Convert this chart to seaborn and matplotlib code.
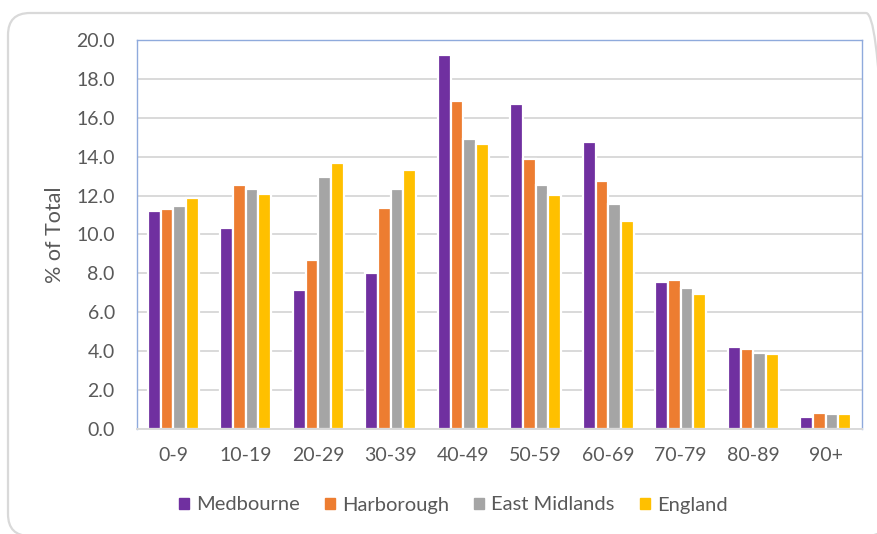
import seaborn as sns
import matplotlib.pyplot as plt
import pandas as pd
from matplotlib.patches import FancyBboxPatch

age_bands = ['0-9', '10-19', '20-29', '30-39', '40-49', '50-59', '60-69', '70-79', '80-89', '90+']
medbourne = [11.2, 10.35, 7.15, 8.0, 19.23, 16.7, 14.77, 7.57, 4.2, 0.63]
harborough = [11.3, 12.53, 8.67, 11.38, 16.88, 13.86, 12.77, 7.64, 4.13, 0.82]
east_midlands = [11.45, 12.34, 12.97, 12.34, 14.89, 12.53, 11.57, 7.27, 3.89, 0.75]
england = [11.88, 12.1, 13.68, 13.32, 14.65, 12.05, 10.71, 6.96, 3.84, 0.75]
series = ['Medbourne', 'Harborough', 'East Midlands', 'England']
colors = ['#7030A0', '#ED7D31', '#A5A5A5', '#FFC000']

df = pd.DataFrame({'Medbourne': medbourne, 'Harborough': harborough,
                   'East Midlands': east_midlands, 'England': england}, index=age_bands)
df = df.reset_index().melt(id_vars='index', var_name='Area', value_name='Pct')
df.columns = ['Age', 'Area', 'Pct']

sns.set_style('white')
plt.rcParams['font.family'] = ['Lato', 'DejaVu Sans']
text_col = '#595959'

fig = plt.figure(figsize=(8.78, 5.34), dpi=100)
ax = fig.add_axes([137 / 878, 1 - 429 / 534, 725 / 878, 389 / 534])

sns.barplot(data=df, x='Age', y='Pct', hue='Area', hue_order=series, palette=colors,
            width=0.7, edgecolor='white', linewidth=1.6, saturation=1, ax=ax, legend=False)

ax.set_ylim(0, 20)
ax.set_xlim(-0.5, 9.5)
ax.set_yticks([i * 2 for i in range(11)])
ax.set_yticklabels([f'{i * 2:.1f}' for i in range(11)])
ax.yaxis.grid(True, color='#D9D9D9', linewidth=1.4)
ax.set_axisbelow(True)
ax.tick_params(axis='both', length=0, labelsize=14, labelcolor=text_col)
ax.tick_params(axis='y', pad=16)
ax.tick_params(axis='x', pad=13)
ax.set_xlabel('')
ax.set_ylabel('% of Total', fontsize=15.5, color=text_col, labelpad=8)
for side in ['left', 'top', 'right']:
    ax.spines[side].set_color('#8FAADC')
    ax.spines[side].set_linewidth(1.0)
ax.spines['bottom'].set_color('#D9D9D9')
ax.spines['bottom'].set_linewidth(1.4)

handles = [plt.Rectangle((0, 0), 1, 1, color=c) for c in colors]
fig.legend(handles, series, loc='center', bbox_to_anchor=(453 / 878, 1 - 505 / 534),
           ncol=4, frameon=False, fontsize=14.5, labelcolor=text_col,
           handlelength=0.5, handleheight=0.5, handletextpad=0.35, columnspacing=1.25)

# outer rounded frame, right and bottom edges run off the image
border = FancyBboxPatch((8 / 878, -2 / 534), 880 / 878, 523 / 534,
                        boxstyle='round,pad=0,rounding_size=0.025', transform=fig.transFigure,
                        facecolor='none', edgecolor='#D9D9D9', linewidth=1.6, mutation_aspect=878 / 534)
fig.patches.append(border)

fig.savefig('out.png', dpi=100)
